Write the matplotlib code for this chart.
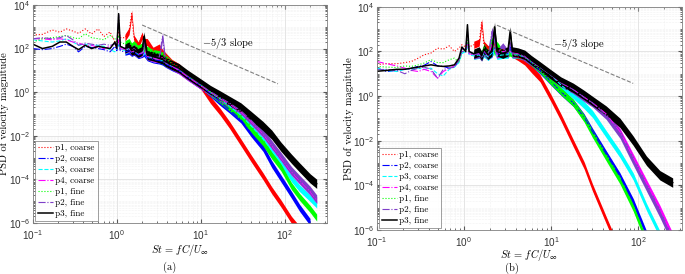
import numpy as np
import matplotlib.pyplot as plt
from matplotlib.ticker import LogLocator, NullFormatter

plt.rcParams['font.family'] = ['Liberation Sans']
plt.rcParams['mathtext.fontset'] = 'cm'
plt.rcParams['mathtext.default'] = 'regular'

nan = float('nan')

# Strouhal numbers used for reading panel (a)
st_a = [0.1, 0.13, 0.17, 0.21, 0.25, 0.3, 0.35, 0.42, 0.5, 0.6, 0.7, 0.83, 0.95,
        1.0, 1.05, 1.1, 1.25, 1.4, 1.5, 1.6, 1.8, 2.0, 2.1, 2.3, 2.7, 3.2, 3.5, 3.8,
        4.5, 5.5, 7, 10, 13, 17, 22, 30, 40, 55, 70, 90, 120, 150, 200, 240]

# log10 of PSD, panel (a)
p1c_a = [2.62, 2.65, 2.85, 2.75, 2.9, 2.8, 2.7, 2.9, 2.67, 2.9, 2.55, 2.76, 2.3,
         2.3, 2.8, 2.5, 2.5, 2.8, 3.6, 2.45, 2.15, 2.6, 2.3, 2.3, 1.9, 2.05, 1.8, 1.65,
         1.35, 1.15, 0.75, 0.3, -0.35, -0.9, -1.5, -2.3, -3.05, -3.85, -4.5, -5.1, -5.85, -6.3, nan, nan]
p2c_a = [2.0, 1.95, 2.0, 2.1, 2.2, 2.1, 1.85, 2.1, 2.05, 2.0, 1.95, 1.85, 2.1,
         1.9, 2.3, 1.9, 1.85, 1.9, 1.8, 1.85, 1.7, 1.75, 1.8, 1.6, 1.5, 1.45, 1.4, 1.3,
         1.15, 1.0, 0.7, 0.3, -0.05, -0.45, -0.8, -1.25, -1.9, -2.55, -3.3, -3.95, -4.7, -5.3, -5.95, nan]
p3c_a = [2.4, 2.35, 2.3, 2.35, 2.45, 2.3, 2.15, 2.2, 2.15, 2.15, 2.1, 1.95, 1.85,
         2.0, 2.2, 2.0, 1.9, 2.0, 1.85, 1.9, 1.75, 1.8, 1.9, 1.65, 1.55, 1.5, 1.45, 1.35,
         1.2, 1.05, 0.75, 0.35, 0.0, -0.3, -0.65, -1.05, -1.55, -2.15, -2.65, -3.2, -3.95, -4.4, -4.85, -5.15]
p4c_a = [2.45, 2.45, 2.4, 2.45, 2.4, 2.3, 2.25, 2.15, 2.15, 2.05, 2.0, 2.1, 2.25,
         2.0, 2.4, 2.0, 1.95, 2.0, 1.85, 1.9, 1.75, 1.8, 2.0, 1.65, 1.55, 1.5, 1.6, 1.35,
         1.2, 1.0, 0.7, 0.3, 0.0, -0.3, -0.55, -0.9, -1.35, -1.9, -2.45, -3.0, -3.65, -4.05, -4.55, -4.95]
p1f_a = [2.3, 2.45, 2.5, 2.55, 2.6, 2.5, 2.45, 2.68, 2.5, 2.45, 2.4, 2.6, 2.45,
         2.3, 2.6, 2.3, 2.2, 2.3, 2.1, 2.2, 2.0, 2.1, 2.0, 1.95, 1.8, 1.75, 1.7, 1.55,
         1.3, 1.1, 0.75, 0.35, 0.0, -0.35, -0.7, -1.1, -1.7, -2.3, -2.9, -3.45, -4.3, -4.8, -5.35, -5.75]
p2f_a = [2.45, 2.5, 2.45, 2.5, 2.6, 2.4, 2.15, 2.25, 2.2, 2.15, 2.2, 2.15, 2.2,
         2.1, 3.55, 2.1, 2.0, 2.0, 1.9, 2.0, 1.8, 1.85, 2.3, 1.7, 1.6, 1.6, 2.55, 1.35,
         1.25, 1.05, 0.75, 0.35, 0.05, -0.25, -0.5, -0.85, -1.3, -1.85, -2.4, -2.95, -3.6, -4.0, -4.5, -4.9]
p3f_a = [2.2, 2.0, 2.1, 2.3, 2.3, 2.1, 1.95, 2.15, 2.0, 2.1, 2.05, 2.0, 2.3,
         2.0, 3.6, 2.1, 2.0, 2.1, 1.9, 1.95, 1.8, 1.9, 2.55, 1.7, 1.65, 1.55, 1.5, 1.4,
         1.25, 1.1, 0.8, 0.4, 0.1, -0.15, -0.4, -0.7, -1.1, -1.55, -1.95, -2.5, -3.05, -3.45, -3.95, -4.2]

# Strouhal numbers used for reading panel (b)
st_b = [0.1, 0.13, 0.17, 0.21, 0.25, 0.3, 0.35, 0.42, 0.5, 0.58, 0.68, 0.78, 0.88,
        0.95, 1.05, 1.1, 1.15, 1.3, 1.5, 1.6, 1.7, 1.9, 2.1, 2.25, 2.4, 2.8, 3.2, 3.4,
        3.6, 4.2, 5, 6, 7.5, 10, 13, 18, 24, 30, 43, 62, 88, 125, 178, 250]

p1c_b = [1.41, 1.45, 1.45, 1.5, 1.55, 1.7, 1.85, 1.93, 2.15, 2.1, 2.25, 2.0, 2.15,
         2.3, 2.2, 2.5, 2.2, 2.3, 2.4, 3.3, 2.3, 2.1, 2.2, 2.3, 2.0, 2.1, 1.95, 2.0,
         1.9, 1.75, 1.55, 1.2, 0.8, -0.09, -0.95, -2.1, -3.1, -4.1, -5.55, -7.0, nan, nan, nan, nan]
p2c_b = [1.26, 1.1, 1.15, 1.2, 1.25, 1.33, 1.38, 1.55, 1.35, 1.33, 1.25, 1.3, 1.6,
         2.0, 1.95, 2.4, 1.9, 1.85, 1.9, 1.8, 2.0, 1.8, 1.9, 2.2, 1.85, 2.0, 1.9, 2.2,
         1.9, 1.85, 1.75, 1.5, 1.15, 0.65, 0.2, -0.3, -0.95, -1.6, -2.6, -3.6, -4.75, -6.2, nan, nan]
p3c_b = [1.25, 1.15, 1.1, 1.2, 1.2, 1.25, 1.2, 1.25, 1.0, 0.9, 1.2, 1.3, 1.5,
         1.9, 2.0, 2.3, 1.85, 1.8, 1.85, 1.75, 1.9, 1.75, 1.95, 2.1, 1.8, 1.85, 1.85, 2.0,
         1.85, 1.85, 1.75, 1.55, 1.3, 0.95, 0.5, 0.05, -0.4, -0.8, -1.7, -2.6, -3.6, -4.97, -6.2, nan]
p4c_b = [1.55, 1.45, 1.35, 1.25, 1.15, 1.1, 1.2, 1.1, 0.8, 1.1, 1.25, 1.35, 1.65,
         2.0, 2.1, 2.3, 1.9, 1.85, 1.9, 1.8, 2.05, 1.8, 2.3, 2.1, 1.85, 2.0, 1.95, 2.0,
         1.95, 1.9, 1.8, 1.55, 1.3, 0.95, 0.6, 0.3, -0.05, -0.3, -0.8, -1.6, -2.75, -3.9, -5.05, -6.3]
p1f_b = [1.33, 1.3, 1.28, 1.35, 1.33, 1.4, 1.48, 1.63, 1.5, 1.5, 1.63, 1.7, 1.5,
         2.0, 2.05, 2.5, 1.95, 1.9, 1.95, 1.85, 2.2, 1.9, 2.5, 1.95, 2.3, 1.9, 1.95, 1.95,
         1.9, 1.85, 1.75, 1.5, 1.2, 0.67, 0.22, -0.3, -1.0, -1.7, -2.74, -3.78, -5.0, -6.5, nan, nan]
p2f_b = [1.18, 1.2, 1.15, 1.0, 1.15, 1.25, 1.3, 1.2, 0.8, 1.2, 1.25, 1.3, 1.6,
         2.1, 2.1, 2.9, 2.0, 1.85, 1.9, 1.75, 2.0, 1.8, 2.9, 2.5, 1.9, 2.2, 1.9, 2.3,
         1.9, 1.9, 1.75, 1.55, 1.3, 0.95, 0.6, 0.3, -0.05, -0.3, -0.85, -1.7, -2.9, -4.07, -5.25, -6.5]
p3f_b = [1.11, 1.15, 1.2, 1.2, 1.25, 1.3, 1.35, 1.4, 1.35, 1.33, 1.35, 1.4, 1.7,
         2.2, 2.0, 3.2, 2.0, 1.9, 2.0, 1.8, 2.1, 1.85, 2.0, 3.1, 2.0, 1.9, 2.0, 2.9,
         2.0, 1.95, 1.85, 1.6, 1.33, 0.97, 0.65, 0.37, 0.05, -0.22, -0.65, -1.2, -2.0, -2.9, -3.55, -3.88]

labels = ['p1, coarse', 'p2, coarse', 'p3, coarse', 'p4, coarse',
          'p1, fine', 'p2, fine', 'p3, fine']
colors = ['#FF0000', '#0000FF', '#00FFFF', '#FF00FF', '#00FF00', '#7E3FC8', '#000000']
styles = [':', '-.', '--', '-.', ':', '-.', '-']
noise = [0.16, 0.16, 0.16, 0.16, 0.16, 0.19, 0.21]  # half width of noise band, decades

# -5/3 reference lines: start/end St, start PSD, text position
slope_a = ([2.0, 83.0], 1.2e3, (10.2, 170))
slope_b = ([2.4, 88.0], 1.5e3, (10.5, 200))


def draw(ax, st, series, slope, ylab_x, xlab_y):
    st = np.array(st)
    dense = st >= 1.2
    for lab, c, ls, ex, nw in zip(labels, colors, styles, series, noise):
        y = 10.0 ** np.array(ex)
        k = 10 ** nw
        ax.fill_between(st[dense], y[dense] / k, y[dense] * k, color=c, lw=0)
        ax.plot(st, y, ls=ls, color=c, lw=1.1 if c == '#000000' else 0.8, label=lab)

    sx, sy0, (tx, ty) = slope
    sx = np.array(sx)
    ax.plot(sx, sy0 * (sx / sx[0]) ** (-5 / 3), '--', color='0.5', lw=0.8)
    ax.text(tx, ty, r'$-$5/3 slope', fontsize=7.5, va='center', ha='left',
            family='cmr10', math_fontfamily='cm')

    ax.set_xscale('log')
    ax.set_yscale('log')
    ax.set_xlim(0.1, 10 ** 2.5)
    ax.set_ylim(1e-6, 1e4)
    ax.set_xticks([0.1, 1, 10, 100])
    ax.set_yticks([1e-6, 1e-4, 1e-2, 1, 1e2, 1e4])
    ax.yaxis.set_minor_locator(LogLocator(base=10, subs=np.arange(1, 10), numticks=100))
    ax.yaxis.set_minor_formatter(NullFormatter())
    ax.xaxis.set_minor_locator(LogLocator(base=10, subs=np.arange(2, 10), numticks=100))
    ax.xaxis.set_minor_formatter(NullFormatter())
    ax.grid(True, which='major', color='0.86', lw=0.5)
    ax.grid(True, which='minor', color='0.9', lw=0.4, ls=':')
    ax.set_axisbelow(True)
    ax.tick_params(which='both', direction='in', top=True, right=True,
                   labelsize=7.2, color='0.35', labelcolor='0.2')
    ax.tick_params(axis='y', pad=2)
    ax.tick_params(axis='x', pad=3.5)
    ax.tick_params(which='major', length=3)
    ax.tick_params(which='minor', length=1.5)
    for s in ax.spines.values():
        s.set_color('0.5')
        s.set_linewidth(0.6)
    ax.set_xlabel(r'$\mathit{St}\,=\,\mathit{fC/U}_\infty$', fontsize=7.5,
                  family='cmr10', math_fontfamily='cm')
    ax.xaxis.set_label_coords(0.5, xlab_y)
    ax.set_ylabel('PSD of velocity magnitude', fontsize=7.5, family='cmr10')
    ax.yaxis.set_label_coords(ylab_x, 0.5)
    leg = ax.legend(loc='lower left', prop={'family': 'cmr10', 'size': 6.5},
                    frameon=True, fancybox=False, handlelength=1.7,
                    handletextpad=0.25, labelspacing=0.28, borderpad=0.3,
                    borderaxespad=0.25)
    leg.get_frame().set_edgecolor('0.45')
    leg.get_frame().set_linewidth(0.6)


fig = plt.figure(figsize=(6.85, 2.74), dpi=100)
ax_a = fig.add_axes([0.048, 0.186, 0.429, 0.796])
ax_b = fig.add_axes([0.550, 0.161, 0.445, 0.814])

draw(ax_a, st_a, [p1c_a, p2c_a, p3c_a, p4c_a, p1f_a, p2f_a, p3f_a], slope_a, -0.082, -0.085)
draw(ax_b, st_b, [p1c_b, p2c_b, p3c_b, p4c_b, p1f_b, p2f_b, p3f_b], slope_b, -0.075, -0.078)

fig.text(170 / 685, 1 - 267 / 274, '(a)', fontsize=7.5, family='cmr10', ha='center', va='center')
fig.text(512 / 685, 1 - 268 / 274, '(b)', fontsize=7.5, family='cmr10', ha='center', va='center')

fig.savefig('out.png', dpi=100)
